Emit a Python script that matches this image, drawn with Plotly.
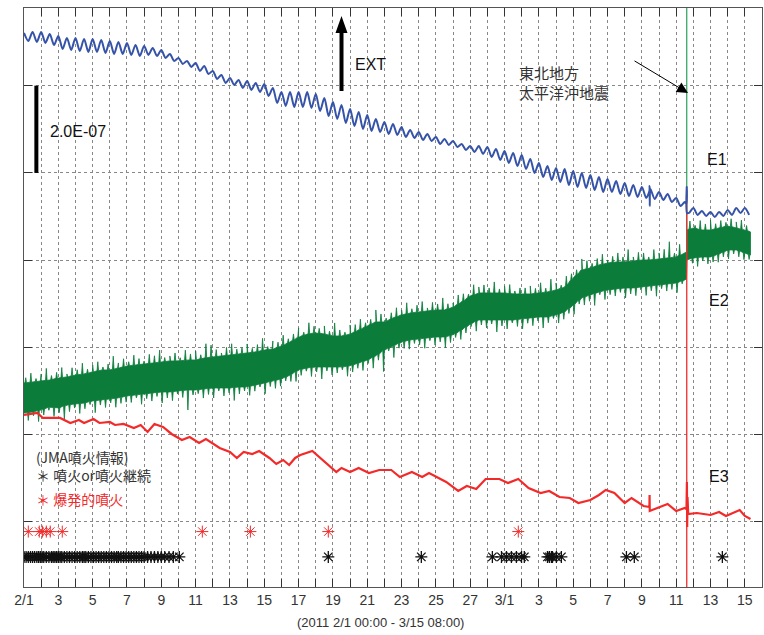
import numpy as np
import plotly.graph_objects as go

# ---------------- data -----------------
# time axis: days since 2011-02-01 00:00 (end 3/15 08:00 = 42.33)
QUAKE_T = 38.615          # 2011-03-11 14:46 Tohoku earthquake
END_T = 42.33

# Strain values in chart units; 87.25 units = 2.0E-07 (scale bar)
NE_PER_UNIT = 200.0 / 87.25   # -> nanostrain

# E1 (blue): semidiurnal tide, peaks at t = 0, 0.5, 1 ... and troughs at t = 0.25, 0.75 ...
E1_PEAKS = [489, 490, 490, 488, 486, 484, 484, 483, 483, 482,
            481, 480, 479, 477, 476, 474, 472, 468, 464, 461,
            459, 456, 451, 447, 444, 442, 441, 439, 438, 434,
            430, 430, 430, 430, 428, 424, 420, 417, 413, 410,
            407, 403, 400, 398, 395, 392, 390, 388, 385, 383,
            381, 378, 376, 376, 375, 373, 371, 369, 367, 363,
            359, 356, 354, 353, 351, 349, 347, 345, 343, 341,
            339, 337, 335, 333, 330, 328, 324, 320, 314, 311,
            310, 310, 312, 314, 314]
E1_TROUGHS = [481, 480, 479, 477, 473, 472, 471, 470, 470, 469,
              468, 468, 467, 466, 467, 466, 464, 461, 458, 455,
              451, 448, 443, 439, 437, 434, 432, 430, 426, 419,
              416, 415, 415, 414, 411, 406, 403, 399, 396, 393,
              391, 390, 388, 387, 385, 384, 382, 381, 378, 377,
              375, 372, 370, 368, 365, 362, 359, 356, 353, 349,
              345, 342, 340, 337, 335, 334, 332, 330, 330, 328,
              326, 325, 324, 323, 322, 320, 316, 309, 307, 306,
              305, 306, 307, 309, 307]
E1_SPIKE_T = [36.44, 36.45, 36.46, 38.6, 38.615, 38.63]
E1_SPIKE_V = [331, 336, 316, 318, 335, 309]

# E2 (green): noisy band, lower / upper envelope of the dense part
E2_T = [i * 0.5 for i in range(78)] + [38.6, 38.63, 39, 39.5, 40, 40.5, 41, 41.5, 42, END_T]
E2_LOW = [109, 110, 112, 115, 114, 117, 118, 119, 121, 122,
          123, 124, 126, 127, 128, 129, 130, 130, 131, 132,
          132, 133, 134, 134, 134, 135, 135, 137, 139, 141,
          143, 147, 152, 154, 155, 155, 155, 155, 156, 159,
          162, 166, 172, 176, 180, 182, 183, 184, 185, 185,
          187, 192, 198, 202, 202, 202, 202, 202, 203, 204,
          205, 205, 207, 210, 217, 224, 227, 230, 232, 233,
          234, 234, 235, 236, 237, 238, 239, 242,
          243, 262, 264, 265, 265, 268, 272, 272, 269, 267]
E2_HIGH = [139, 140, 141, 142, 144, 145, 147, 148, 150, 152,
           152, 154, 156, 157, 158, 159, 160, 161, 161, 162,
           162, 164, 165, 166, 167, 168, 169, 170, 172, 173,
           176, 180, 185, 188, 189, 188, 186, 186, 188, 192,
           196, 200, 200, 204, 207, 209, 210, 211, 212, 212,
           215, 220, 226, 229, 229, 229, 229, 228, 228, 228,
           229, 230, 232, 235, 244, 252, 254, 257, 259, 260,
           260, 261, 262, 262, 263, 264, 265, 269,
           270, 292, 294, 292, 292, 294, 296, 294, 292, 290]
E2_QUAKE_SPIKE = [270, 620]
# excursions beyond the dense band, every 0.3 day (lengths in chart units)
E2_UP_T0, E2_DN_T0, E2_SPIKE_STEP = 0.1, 0.25, 0.3
E2_UP_LEN = [5, 9, 3, 7, 12, 4, 6, 10, 3, 8, 5, 11, 4, 7, 9, 3, 6, 13, 5, 8, 4, 10, 6, 3, 9, 7, 12, 4, 5, 8,
             3, 10, 6, 9, 4, 14, 12, 7, 3, 8, 11, 5, 6, 9, 4, 7, 12, 3, 8, 5, 10, 4, 6, 9, 3, 11, 7, 5, 8, 4,
             13, 6, 3, 9, 7, 10, 4, 5, 12, 8, 3, 6, 9, 5, 11, 4, 7, 10, 3, 8, 6, 12, 5, 4, 9, 7, 3, 10, 6, 8,
             5, 11, 4, 7, 9, 3, 6, 6, 8, 5, 10, 4, 12, 7, 3, 9, 6, 5, 11, 8, 4, 7, 10, 3, 6, 9, 5, 12, 4, 8,
             7, 3, 10, 6, 9, 16, 4, 11, 7, 8, 3, 9, 6, 10, 5, 7, 4, 8, 6, 9, 5]
E2_DN_LEN = [8, 4, 11, 6, 3, 9, 5, 14, 7, 4, 10, 6, 3, 12, 5, 8, 4, 9, 6, 6, 7, 3, 10, 5, 8, 4, 11, 6, 9, 3,
             7, 20, 5, 4, 9, 6, 10, 3, 8, 5, 13, 7, 4, 9, 6, 3, 11, 5, 8, 7, 4, 7, 10, 6, 3, 9, 5, 12, 4, 8,
             6, 3, 10, 7, 5, 9, 4, 11, 6, 21, 3, 12, 5, 7, 9, 4, 6, 10, 3, 8, 5, 11, 7, 4, 9, 6, 3, 10, 5, 8,
             4, 12, 6, 9, 3, 7, 10, 5, 8, 4, 11, 6, 3, 9, 7, 5, 10, 4, 8, 6, 12, 3, 9, 5, 7, 4, 10, 6, 8, 3,
             9, 5, 11, 4, 7, 6, 10, 3, 8, 5, 9, 4, 7, 6, 8, 5, 9, 4, 6, 7, 5]

# E3 (red)
E3_T = [0, 0.78, 1.1, 2.1, 2.7, 3.2, 3.5, 4.05, 4.4, 5.0, 5.3, 5.8, 6.4, 6.8, 7.2, 7.6,
        8.1, 8.6, 9.2, 9.65, 10.2, 10.6, 11.4, 12.0, 12.4, 12.8, 13.3, 13.7, 14.3, 14.7,
        15.1, 15.45, 15.8, 16.1, 16.8, 17.4, 18.2, 18.5, 19.0, 19.5, 20.1, 20.7, 21.4,
        21.9, 22.6, 23.2, 23.6, 24.6, 25.3, 25.8, 26.35, 26.9, 27.7, 28.2, 28.8, 29.4,
        30.1, 30.6, 31.2, 31.8, 32.3, 33.0, 33.5, 33.9, 34.4, 35.0, 35.4, 36.1, 36.44,
        36.45, 36.46, 36.9, 37.5, 38.0, 38.5, 38.6, 38.625, 38.64, 38.66,
        38.7, 39.2, 40.0, 40.5, 40.9, 41.7, 42.0, END_T]
E3_V = [107, 109, 104, 104, 99, 102, 99, 103, 99, 100, 97, 98, 94, 97, 90, 98,
        95, 88, 82, 85, 79, 83, 74, 70, 64, 70, 68, 71, 64, 58,
        62, 57, 64, 67, 71, 62, 50, 54, 50, 54, 49, 52, 52,
        45, 50, 45, 49, 40, 31, 36, 33, 43, 43, 39, 43, 34,
        29, 31, 25, 24, 19, 22, 27, 32, 29, 19, 24, 16, 15,
        27, 11, 14, 18, 11, 14, 13, 40, -5, 25,
        8, 9, 7, 10, 6, 12, 6, 3]
E3_QUAKE_SPIKE = [332, -90]

# JMA eruption information (times in days)
EXPLOSIVE_T = [0.25, 0.89, 1.07, 1.3, 1.53, 2.23, 10.39, 13.19, 17.73, 28.8]
ERUPTION_T = [0.0, 0.12, 0.25, 0.38, 0.5, 0.62, 0.75, 0.85, 0.95, 1.05, 1.15, 1.3, 1.45,
              1.6, 1.7, 1.8, 1.9, 2.0, 2.1, 2.2, 2.35, 2.5, 2.65, 2.8, 2.95, 3.1, 3.25,
              3.4, 3.5, 3.6, 3.75, 3.9, 4.05, 4.2, 4.35, 4.5, 4.65, 4.8, 4.95, 5.1, 5.25,
              5.4, 5.5, 5.65, 5.8, 5.95, 6.1, 6.25, 6.4, 6.55, 6.7, 6.85, 7.0, 7.2, 7.4,
              7.6, 7.8, 8.0, 8.2, 8.45, 8.7, 9.05,
              17.73, 23.15, 27.29, 27.82, 28.11, 28.4, 28.69, 28.99, 29.15,
              30.5, 30.61, 30.73, 30.79, 31.02, 31.31, 35.1, 35.56, 40.69]

# x tick labels (every 2 days)
TICK_DAYS = list(range(0, 43, 2))
TICK_TEXT = ["2/1", "3", "5", "7", "9", "11", "13", "15", "17", "19", "21", "23", "25",
             "27", "3/1", "3", "5", "7", "9", "11", "13", "15"]

# ---------------- styling / layout constants -----------------
W, H = 764, 635
ML, MR, MT, MB = 24, 2, 8, 48
X_RANGE = [0, 43]
Y_RANGE = [-149, 1178]
ROW_EXPLOSIVE = -22
ROW_ERUPTION = -80
SCALE_BAR_X = 0.72
SCALE_BAR_Y = [800, 1000]
SPIKE_HALF_WIDTH = 0.045

BLUE = "#3553a8"
GREEN = "#0b7c3a"
RED = "#f22a2a"
LATIN = "Liberation Sans, Noto Sans CJK JP"
JP = "Noto Sans CJK JP"

def ne(vals):
    return [v * NE_PER_UNIT for v in vals]

PW = W - ML - MR
PH = H - MT - MB
def px(x, y):
    """page pixel -> paper coords"""
    return (x - ML) / PW, (H - MB - y) / PH

# E1 series assembled
e1_t = [i * 0.5 for i in range(len(E1_PEAKS))] + [i * 0.5 + 0.25 for i in range(len(E1_TROUGHS))] + E1_SPIKE_T
e1_v = E1_PEAKS + E1_TROUGHS + E1_SPIKE_V
order = np.argsort(e1_t)
e1_t = [e1_t[i] for i in order]
e1_v = [e1_v[i] for i in order]

# E2 jagged edges: envelope plus excursions
def jagged(edge, t0, lens, sign):
    pts = list(zip(E2_T, edge))
    for k, L in enumerate(lens):
        t = t0 + k * E2_SPIKE_STEP
        if abs(t - QUAKE_T) < 0.12 or t > END_T - 0.06:
            continue
        b = float(np.interp(t, E2_T, edge))
        pts += [(t - SPIKE_HALF_WIDTH, b), (t, b + sign * L), (t + SPIKE_HALF_WIDTH, b)]
    pts.sort(key=lambda p: p[0])
    return [p[0] for p in pts], [p[1] for p in pts]

hx, hy = jagged(E2_HIGH, E2_UP_T0, E2_UP_LEN, 1)
lx, ly = jagged(E2_LOW, E2_DN_T0, E2_DN_LEN, -1)

fig = go.Figure()

# E2 band
fig.add_trace(go.Scatter(x=hx + lx[::-1], y=ne(hy + ly[::-1]),
                         fill="toself", fillcolor=GREEN, mode="lines",
                         line=dict(color=GREEN, width=0.8), hoverinfo="skip"))
fig.add_trace(go.Scatter(x=[QUAKE_T, QUAKE_T], y=ne(E2_QUAKE_SPIKE), mode="lines",
                         line=dict(color="#2e9e5a", width=1.2)))
# E3
fig.add_trace(go.Scatter(x=E3_T, y=ne(E3_V), mode="lines",
                         line=dict(color=RED, width=2.2)))
fig.add_trace(go.Scatter(x=[QUAKE_T, QUAKE_T], y=ne(E3_QUAKE_SPIKE), mode="lines",
                         line=dict(color=RED, width=1.3)))
# E1
fig.add_trace(go.Scatter(x=e1_t, y=ne(e1_v), mode="lines",
                         line=dict(color=BLUE, width=2, shape="spline", smoothing=0.8)))

# eruption markers
fig.add_trace(go.Scatter(x=EXPLOSIVE_T, y=[ROW_EXPLOSIVE] * len(EXPLOSIVE_T), mode="markers",
                         marker=dict(symbol="asterisk-open", size=10, color=RED,
                                     line=dict(color=RED, width=1))))
fig.add_trace(go.Scatter(x=ERUPTION_T, y=[ROW_ERUPTION] * len(ERUPTION_T), mode="markers",
                         marker=dict(symbol="asterisk-open", size=10, color="#111",
                                     line=dict(color="#111", width=1.3))))

# scale bar
fig.add_shape(type="line", xref="x", yref="y", x0=SCALE_BAR_X, x1=SCALE_BAR_X,
              y0=SCALE_BAR_Y[0], y1=SCALE_BAR_Y[1], line=dict(color="black", width=4))

# EXT arrow (drawn in pixels around its tip)
ta, tb = px(341.5, 16)
fig.add_shape(type="path", xref="paper", yref="paper", xsizemode="pixel", ysizemode="pixel",
              xanchor=ta, yanchor=tb,
              path="M0,0 L6,-17 L2,-17 L2,-75 L-2,-75 L-2,-17 L-6,-17 Z",
              fillcolor="black", line=dict(color="black", width=0))

ann = []
def text(s, x, y, size, color="#111", family=LATIN, xanchor="left", yanchor="middle"):
    xp, yp = px(x, y)
    ann.append(dict(text=s, x=xp, y=yp, xref="paper", yref="paper", showarrow=False,
                    xanchor=xanchor, yanchor=yanchor, align="left",
                    font=dict(size=size, color=color, family=family)))

text("2.0E-07", 48, 132, 16)
text("EXT", 353, 64, 16)
text("E1", 705, 160, 16)
text("E2", 707, 300, 16)
text("E3", 707, 476, 16)
text("東北地方<br>太平洋沖地震", 517, 82, 15, color="#333", family=JP)
text("(JMA噴火情報)<br>＊ 噴火or噴火継続", 34, 466, 14, color="#333", family=JP)
text("＊ 爆発的噴火", 34, 499, 14, color=RED, family=JP)
text("(2011 2/1 00:00 - 3/15 08:00)", 380, 622, 13, color="#333", xanchor="center")

# earthquake pointer
xq, yq = px(688, 93)
ann.append(dict(x=xq, y=yq, xref="paper", yref="paper", ax=-55, ay=-33, text="",
                showarrow=True, arrowhead=2, arrowsize=2.2, arrowwidth=1, arrowcolor="black"))

fig.update_layout(
    width=W, height=H, margin=dict(l=ML, r=MR, t=MT, b=MB),
    plot_bgcolor="white", paper_bgcolor="white", showlegend=False,
    annotations=ann,
    xaxis=dict(range=X_RANGE, tickmode="array", tickvals=TICK_DAYS, ticktext=TICK_TEXT,
               ticks="inside", ticklen=8, tickcolor="#333", showline=True, linecolor="#555",
               mirror="ticks", showgrid=True, gridcolor="#888", griddash="dot", gridwidth=1,
               zeroline=False, tickfont=dict(size=14, color="#333", family=LATIN),
               minor=dict(tickvals=list(range(1, 43, 2)), ticks="inside", ticklen=8,
                          tickcolor="#333", showgrid=True, gridcolor="#888", griddash="dot")),
    yaxis=dict(range=Y_RANGE, tick0=0, dtick=200, showticklabels=False,
               ticks="inside", ticklen=8, tickcolor="#333", showline=True, linecolor="#555",
               mirror="ticks", showgrid=True, gridcolor="#888", griddash="dot", gridwidth=1,
               zeroline=False),
)

fig.write_html("out.html")
